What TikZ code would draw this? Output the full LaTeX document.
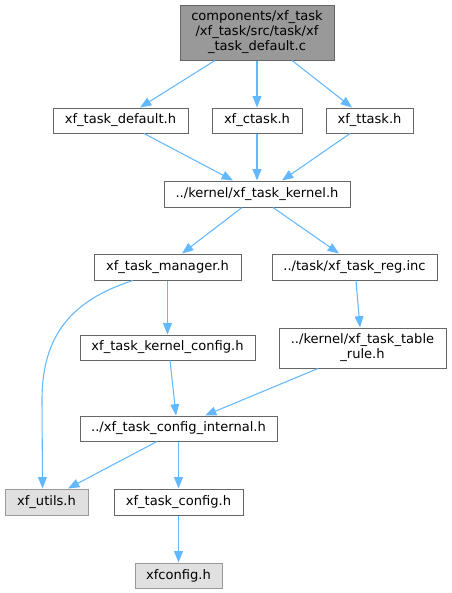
\documentclass[tikz,border=0pt]{standalone}
\usepackage{fontspec}
\setmainfont{DejaVu Sans}
\usetikzlibrary{arrows.meta,calc}
\definecolor{edgec}{HTML}{63B8FF}
\definecolor{bordc}{HTML}{666666}
\definecolor{topf}{HTML}{999999}
\definecolor{grayf}{HTML}{E0E0E0}
\definecolor{grayb}{HTML}{999999}
\begin{document}
\begin{tikzpicture}[x=0.75pt,y=-0.75pt,
  file/.style={draw=bordc,fill=white,line width=0.75pt,inner sep=0pt,
    font=\fontsize{9.8pt}{11.3pt}\selectfont,align=center},
  mainfile/.style={file,fill=topf},
  extfile/.style={file,draw=grayb,fill=grayf},
  dep/.style={draw=edgec,line width=0.8pt,-{Triangle[length=8.5pt,width=6.6pt]}}]
\useasboundingbox (0,0) rectangle (451,593);
\node[mainfile,minimum width=154*0.75pt,minimum height=55*0.75pt] (top) at (257,32.5)
  {components/xf\_task\\/xf\_task/src/task/xf\\\_task\_default.c};
\node[file,minimum width=135*0.75pt,minimum height=25*0.75pt] (def) at (120.5,120.5) {xf\_task\_default.h};
\node[file,minimum width=90*0.75pt,minimum height=25*0.75pt] (ctask) at (257,120.5) {xf\_ctask.h};
\node[file,minimum width=87*0.75pt,minimum height=25*0.75pt] (ttask) at (369.5,120.5) {xf\_ttask.h};
\node[file,minimum width=186*0.75pt,minimum height=26*0.75pt] (kernel) at (257,194) {../kernel/xf\_task\_kernel.h};
\node[file,minimum width=147*0.75pt,minimum height=26*0.75pt] (manager) at (167.5,267) {xf\_task\_manager.h};
\node[file,minimum width=165*0.75pt,minimum height=26*0.75pt] (reg) at (354.5,267) {../task/xf\_task\_reg.inc};
\node[file,minimum width=175*0.75pt,minimum height=25*0.75pt] (kconfig) at (167.5,347.5) {xf\_task\_kernel\_config.h};
\node[file,minimum width=167*0.75pt,minimum height=40*0.75pt] (table) at (362.5,348) {../kernel/xf\_task\_table\\\_rule.h};
\node[file,minimum width=197*0.75pt,minimum height=25*0.75pt] (internal) at (178.5,428.5) {../xf\_task\_config\_internal.h};
\node[extfile,minimum width=83*0.75pt,minimum height=26*0.75pt] (utils) at (46.5,502) {xf\_utils.h};
\node[file,minimum width=129*0.75pt,minimum height=26*0.75pt] (tconfig) at (178.5,502) {xf\_task\_config.h};
\node[extfile,minimum width=87*0.75pt,minimum height=25*0.75pt] (xfconfig) at (178.5,575.5) {xfconfig.h};

\draw[dep] ($(top.south)+(-42,0)$) -- ($(def.north)+(19.5,0)$);
\draw[dep] (top.south) -- (ctask.north);
\draw[dep] ($(top.south)+(35,0)$) -- ($(ttask.north)+(-17.5,0)$);
\draw[dep] ($(def.south)+(23.5,0)$) -- ($(kernel.north)+(-24,0)$);
\draw[dep] (ctask.south) -- (kernel.north);
\draw[dep] ($(ttask.south)+(-19.5,0)$) -- ($(kernel.north)+(25,0)$);
\draw[dep] ($(kernel.south)+(-15,0)$) -- ($(manager.north)+(14.5,0)$);
\draw[dep] ($(kernel.south)+(16,0)$) -- ($(reg.north)+(-15.5,0)$);
\draw[dep] ($(manager.south)+(-34.5,0)$) .. controls (72,300) and (42,335) .. (42,400) -- ($(utils.north)+(-4,0)$);
\draw[dep] (manager.south) -- (kconfig.north);
\draw[dep] ($(reg.south)+(1.5,0)$) -- ($(table.north)+(-2.5,0)$);
\draw[dep] ($(kconfig.south)+(2.5,0)$) -- ($(internal.north)+(-2.5,0)$);
\draw[dep] ($(table.south)+(-44.5,0)$) -- ($(internal.north)+(26.5,0)$);
\draw[dep] ($(internal.south)+(-21.5,0)$) -- ($(utils.north)+(21.5,0)$);
\draw[dep] (internal.south) -- (tconfig.north);
\draw[dep] (tconfig.south) -- (xfconfig.north);
\end{tikzpicture}
\end{document}
